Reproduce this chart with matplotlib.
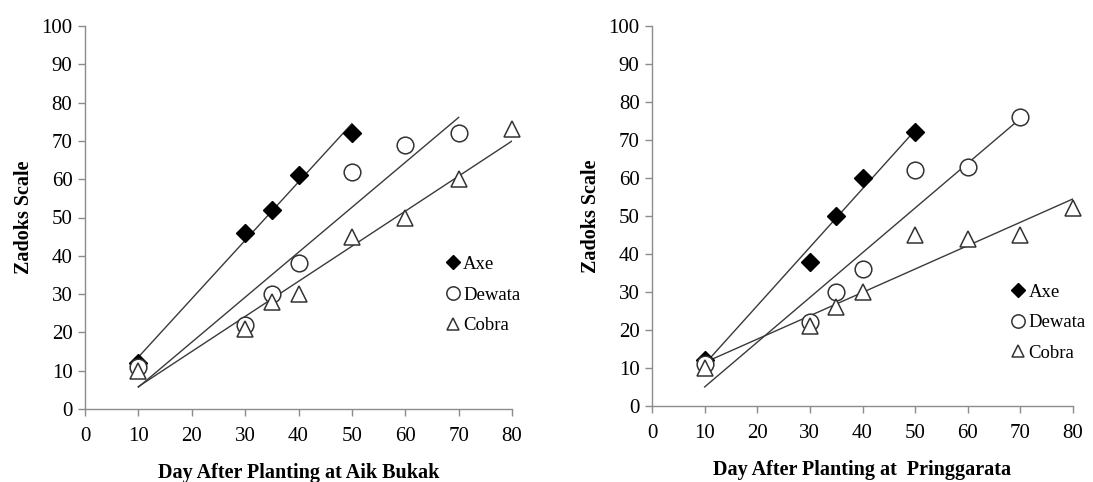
import numpy as np
import matplotlib
matplotlib.use("Agg")
import matplotlib.pyplot as plt

plt.rcParams['font.family'] = ['Liberation Serif', 'DejaVu Serif']

# ---- data ----
series_names = ["Axe", "Dewata", "Cobra"]

aik_axe_x = [10, 30, 35, 40, 50]
aik_axe_y = [12, 46, 52, 61, 72]
aik_dew_x = [10, 30, 35, 40, 50, 60, 70]
aik_dew_y = [11, 22, 30, 38, 62, 69, 72]
aik_cob_x = [10, 30, 35, 40, 50, 60, 70, 80]
aik_cob_y = [10, 21, 28, 30, 45, 50, 60, 73]

pri_axe_x = [10, 30, 35, 40, 50]
pri_axe_y = [12, 38, 50, 60, 72]
pri_dew_x = [10, 30, 35, 40, 50, 60, 70]
pri_dew_y = [11, 22, 30, 36, 62, 63, 76]
pri_cob_x = [10, 30, 35, 40, 50, 60, 70, 80]
pri_cob_y = [10, 21, 26, 30, 45, 44, 45, 52]

x_ticks = [0, 10, 20, 30, 40, 50, 60, 70, 80]
y_ticks = [0, 10, 20, 30, 40, 50, 60, 70, 80, 90, 100]
xlabels = ["Day After Planting at Aik Bukak", "Day After Planting at  Pringgarata"]
ylabel = "Zadoks Scale"

styles = {
    "Axe": dict(marker="D", ms=9, mfc="black", mec="black", mew=1),
    "Dewata": dict(marker="o", ms=12, mfc="white", mec="#333333", mew=1.1),
    "Cobra": dict(marker="^", ms=11, mfc="white", mec="#333333", mew=1.1),
}

fig = plt.figure(figsize=(10.93, 4.82), dpi=100)
ax1 = fig.add_axes([85/1093, 1-409/482, (512-85)/1093, (409-26)/482])
ax2 = fig.add_axes([652/1093, 1-406/482, (1073-652)/1093, (406-26)/482])

panels = [
    (ax1, [(aik_axe_x, aik_axe_y), (aik_dew_x, aik_dew_y), (aik_cob_x, aik_cob_y)], (0.844, 0.40)),
    (ax2, [(pri_axe_x, pri_axe_y), (pri_dew_x, pri_dew_y), (pri_cob_x, pri_cob_y)], (0.852, 0.322)),
]

for i, (ax, data, legpos) in enumerate(panels):
    # trend lines first
    for (xs, ys) in data:
        xs_a = np.array(xs, float); ys_a = np.array(ys, float)
        m, b = np.polyfit(xs_a, ys_a, 1)
        xx = np.array([xs_a.min(), xs_a.max()])
        ax.plot(xx, m*xx + b, color="#3a3a3a", lw=1.0, zorder=2)
    for name, (xs, ys) in zip(series_names, data):
        ax.plot(xs, ys, linestyle="none", label=name, zorder=3, clip_on=False,
                **styles[name])
    ax.set_xlim(0, 80)
    ax.set_ylim(0, 100)
    ax.set_xticks(x_ticks)
    ax.set_yticks(y_ticks)
    for s in ["top", "right"]:
        ax.spines[s].set_visible(False)
    for s in ["left", "bottom"]:
        ax.spines[s].set_color("#8c8c8c")
        ax.spines[s].set_linewidth(1.0)
    ax.tick_params(axis="both", colors="#8c8c8c", labelcolor="black", labelsize=15,
                   length=5, width=1.0, direction="out")
    ax.tick_params(axis="x", pad=8)
    ax.tick_params(axis="y", pad=4)
    ax.set_xlabel(xlabels[i], fontsize=14.5, fontweight="bold", labelpad=12)
    ax.set_ylabel(ylabel, fontsize=14.5, fontweight="bold", labelpad=5)
    leg_handles = []
    for name in series_names:
        st = dict(styles[name])
        st["ms"] = st["ms"] * 0.8
        lh, = ax.plot([], [], linestyle="none", **st)
        leg_handles.append(lh)
    ax.legend(leg_handles, series_names, loc="upper left", bbox_to_anchor=legpos,
              frameon=False, fontsize=13.5, handlelength=0.8, handletextpad=0.15,
              labelspacing=0.72, borderaxespad=0, borderpad=0)

fig.savefig("out.png", dpi=100)
